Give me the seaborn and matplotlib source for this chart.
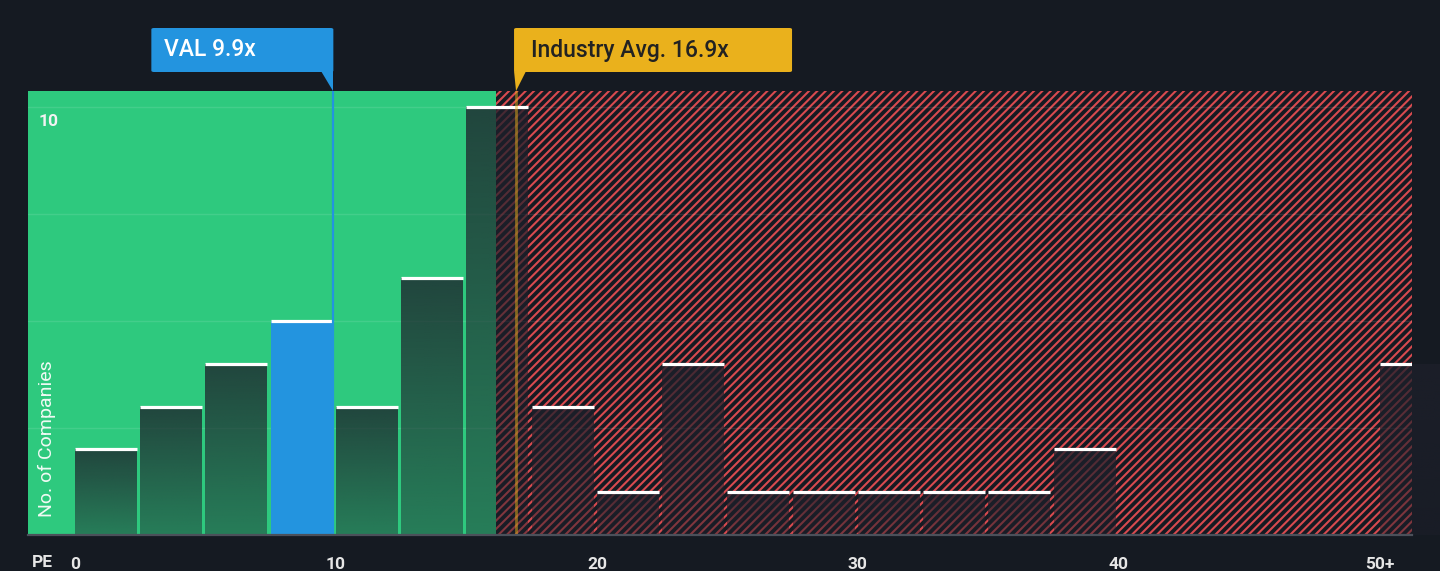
import numpy as np
import pandas as pd
import matplotlib
matplotlib.use("Agg")
import matplotlib.pyplot as plt
import matplotlib.transforms as mtransforms
from matplotlib.patches import FancyBboxPatch, Polygon
import seaborn as sns

# data
bin_edges = np.arange(0, 52.5 + 0.01, 2.5)
counts = [2, 3, 4, 5, 3, 6, 10, 3, 1, 4, 1, 1, 1, 1, 1, 2, 0, 0, 0, 0, 4]
company_pe = 9.9
industry_pe = 16.9
company_name = "VAL"
tick_values = [0, 10, 20, 30, 40, 50]
tick_labels = ["0", "10", "20", "30", "40", "50+"]

# colours
bg = "#151a22"
green = "#2ec97e"
blue = "#2394df"
gold = "#eab11c"
red = "#d84a4f"

sns.set_theme(style="dark")
plt.rcParams["font.family"] = ["Roboto", "DejaVu Sans"]
plt.rcParams["hatch.linewidth"] = 1.5

df = pd.DataFrame({"pe": bin_edges[:-1] + 1.25, "n": counts})

fig = plt.figure(figsize=(14.4, 5.71), dpi=100, facecolor=bg)
ax = fig.add_axes([28 / 1440, 36 / 571, 1384 / 1440, 444 / 571])
ax.set_facecolor(bg)
xmin, xmax = -1.8, 51.23
ymin, ymax = 0, 10.37
px = (xmax - xmin) / 1384  # one pixel in data units

# background zones
ax.axvspan(xmin, 16.15, color=green, lw=0, zorder=0)
ax.axvspan(16.15, xmax, facecolor=bg, edgecolor=red, hatch="////", lw=0, zorder=0)

# bars
sns.histplot(data=df, x="pe", weights="n", binwidth=2.5, binrange=(bin_edges[0], bin_edges[-1]),
             shrink=0.95, element="bars", stat="count", ax=ax, zorder=2, linewidth=0)
bars = ax.containers[-1]

grad = np.zeros((256, 1, 4))
grad[..., 0] = 30 / 255
grad[..., 1] = 32 / 255
grad[..., 2] = 43 / 255
grad[:, 0, 3] = np.linspace(0.78, 0.45, 256)

for i, p in enumerate(bars.patches):
    # bars sit on the left edge of their bin, gap on the right
    p.set_x(p.get_x() - (2.5 - p.get_width()) / 2)
    h = p.get_height()
    x0, w = p.get_x(), p.get_width()
    if h <= 0:
        p.set_visible(False)
        continue
    if x0 < company_pe <= x0 + w + 0.2:
        p.set_facecolor(blue)
        p.set_alpha(1)
    else:
        p.set_facecolor((0, 0, 0, 0))
        im = ax.imshow(grad, extent=[x0, x0 + w, 0, h], aspect="auto",
                       origin="upper", zorder=2.5, interpolation="bilinear")
        im.set_clip_path(p)
    ax.hlines(h, x0, x0 + w, color="white", lw=2.3, zorder=4)

# grid
for g in [2.5, 5, 7.5, 10]:
    ax.axhline(g, color="white", alpha=0.1, lw=1, zorder=1)

# reference lines
ax.axvline(company_pe, color=blue, lw=1.6, zorder=5)
ax.axvline(industry_pe, color=gold, lw=2, alpha=0.5, zorder=5)

ax.set_xlim(xmin, xmax)
ax.set_ylim(ymin, ymax)

# axes styling
for s in ["top", "right", "left"]:
    ax.spines[s].set_visible(False)
ax.spines["bottom"].set_color("#4b505a")
ax.spines["bottom"].set_linewidth(1.6)
ax.spines["bottom"].set_zorder(6)
ax.set_xticks(np.arange(0, 50.1, 2.5), minor=True)
ax.set_xticks(tick_values)
ax.set_xticklabels(tick_labels)
ax.tick_params(axis="x", which="both", colors="#4b505a", length=5, width=1.2,
               direction="out", pad=11)
ax.tick_params(axis="x", which="major", labelcolor="#e6e6e6", labelsize=12.5)
for t in ax.get_xticklabels():
    t.set_fontweight("bold")
ax.set_yticks([])
ax.set_xlabel("")
ax.set_ylabel("")
ax.grid(False)

ax.text(-1.38, 9.65, "10", color="#f2f2f2", fontsize=12.5, fontweight="bold",
        ha="left", va="center", zorder=6)
ax.text(0.0137, 0.04, "No. of Companies", transform=ax.transAxes, rotation=90,
        color="#f0faf4", fontsize=14, ha="center", va="bottom", zorder=6)
ax.text(0.003, -0.063, "PE", transform=ax.transAxes, color="#e6e6e6",
        fontsize=12.5, fontweight="bold", ha="left", va="center")

# callout boxes
tr = mtransforms.blended_transform_factory(ax.transData, ax.transAxes)
y0, y1 = (535 - 72) / 444, (535 - 28) / 444
ytop = 1.0

# company box (right edge on the value)
bw = 182 * px
box = FancyBboxPatch((company_pe - bw, y0), bw, y1 - y0,
                     boxstyle="round,pad=0,rounding_size=0.1", transform=tr,
                     facecolor=blue, edgecolor="none", clip_on=False, zorder=7,
                     mutation_aspect=0.03)
ax.add_patch(box)
ax.add_patch(Polygon([(company_pe - 12 * px, y0 + 0.002), (company_pe, y0 + 0.002),
                      (company_pe, ytop)], closed=True, transform=tr,
                     facecolor=blue, edgecolor="none", clip_on=False, zorder=7))
ax.text(company_pe - bw + 13 * px, (y0 + y1) / 2, f"{company_name} {company_pe}x",
        transform=tr, color="white", fontsize=16.5, fontweight="medium",
        ha="left", va="center", zorder=8, clip_on=False)

# industry box (left edge on the value)
gw = 278 * px
gbox = FancyBboxPatch((industry_pe - 2 * px, y0), gw, y1 - y0,
                      boxstyle="round,pad=0,rounding_size=0.1", transform=tr,
                      facecolor=gold, edgecolor="none", clip_on=False, zorder=7,
                      mutation_aspect=0.03)
ax.add_patch(gbox)
ax.add_patch(Polygon([(industry_pe - 2 * px, y0 + 0.002), (industry_pe + 10 * px, y0 + 0.002),
                      (industry_pe, ytop)], closed=True, transform=tr,
                     facecolor=gold, edgecolor="none", clip_on=False, zorder=7))
ax.text(industry_pe + 15 * px, (y0 + y1) / 2, f"Industry Avg. {industry_pe}x",
        transform=tr, color="#222222", fontsize=16.5, fontweight="medium",
        ha="left", va="center", zorder=8, clip_on=False)

fig.savefig("out.png", dpi=100, facecolor=bg)
